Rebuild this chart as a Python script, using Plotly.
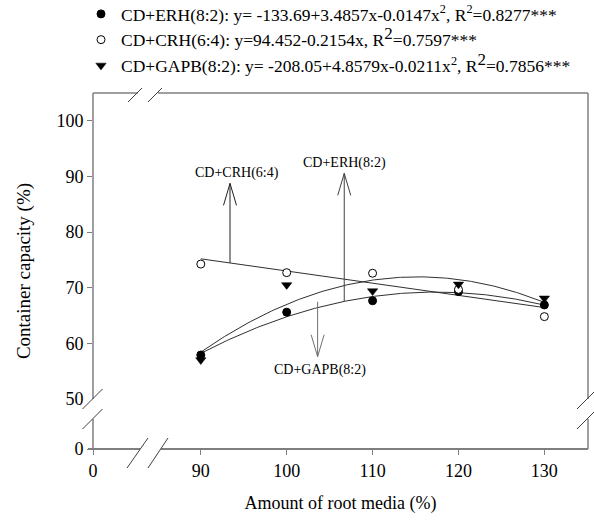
import numpy as np
import plotly.graph_objects as go

# ---------------- data ----------------
root_media = [90, 100, 110, 120, 130]
erh = [57.9, 65.6, 67.65, 69.3, 66.9]      # CD+ERH(8:2)
crh = [74.25, 72.7, 72.6, 69.7, 64.8]      # CD+CRH(6:4)
gapb = [57.0, 70.5, 69.4, 70.6, 68.1]      # CD+GAPB(8:2)

x_tickvals = [77.45, 90, 100, 110, 120, 130]
x_ticktext = ["0", "90", "100", "110", "120", "130"]
y_tickvals = [41, 50, 60, 70, 80, 90, 100]
y_ticktext = ["0", "50", "60", "70", "80", "90", "100"]

leg_erh = "CD+ERH(8:2): y= -133.69+3.4857x-0.0147x<sup>2</sup>, R<sup>2</sup>=0.8277***"
leg_crh = ("CD+CRH(6:4): y=94.452-0.2154x, R<sup><span style='font-size:17px'>2</span></sup>=0.7597***")
leg_gapb = ("CD+GAPB(8:2): y= -208.05+4.8579x-0.0211x<sup>2</sup>, "
            "R<sup><span style='font-size:17px'>2</span></sup>=0.7856***")

# ---------------- layout geometry ----------------
W, H = 594, 520
ML, MR, MT, MB = 93, 6, 93, 71
X0, X1 = 77.45, 135.08
Y0, Y1 = 41.0, 105.0
PW, PH = W - ML - MR, H - MT - MB
PX_X = PW / (X1 - X0)   # px per x unit
PX_Y = PH / (Y1 - Y0)   # px per y unit


def px(xp):
    return (xp - ML) / PW


def py(yp):
    return (H - MB - yp) / PH


FONT = "Liberation Serif"
xs = np.linspace(90, 130, 161)
fit_erh = np.poly1d(np.polyfit(root_media, erh, 2))
fit_crh = np.poly1d(np.polyfit(root_media, crh, 1))
fit_gapb = np.poly1d(np.polyfit(root_media, gapb, 2))

fig = go.Figure()
line_col = "#303030"
for f in (fit_erh, fit_crh, fit_gapb):
    fig.add_trace(go.Scatter(x=xs, y=f(xs), mode="lines", showlegend=False,
                             line=dict(color=line_col, width=1), hoverinfo="skip"))

fig.add_trace(go.Scatter(x=root_media, y=erh, mode="markers", name=leg_erh,
                         marker=dict(symbol="circle", size=8, color="black",
                                     line=dict(color="black", width=1))))
fig.add_trace(go.Scatter(x=root_media, y=crh, mode="markers", name=leg_crh,
                         marker=dict(symbol="circle", size=8, color="white",
                                     line=dict(color="black", width=1))))
fig.add_trace(go.Scatter(x=root_media, y=gapb, mode="markers", name=leg_gapb,
                         marker=dict(symbol="triangle-down", size=9, color="black",
                                     line=dict(color="black", width=0.5))))

shapes = []
fc = "#7f7f7f"


def seg(x0, y0, x1, y1, color=fc, width=1.5):
    shapes.append(dict(type="line", xref="paper", yref="paper",
                       x0=px(x0), y0=py(y0), x1=px(x1), y1=py(y1),
                       line=dict(color=color, width=width), layer="above"))


L, R, T, B = ML, W - MR, MT, H - MB
# frame with breaks
seg(L, T, L, 399)
seg(L, 419, L, B)
seg(L - 5, B, 140, B, width=2)
seg(161, B, R, B, width=2)
seg(L, T, 138, T)
seg(158, T, R, T)
seg(R, T, R, 399)
seg(R, 419, R, B)
# cover tick at 50
shapes.append(dict(type="rect", xref="paper", yref="paper", x0=px(84), x1=px(92),
                   y0=py(401), y1=py(397), fillcolor="white", line=dict(width=0),
                   layer="above"))
sc = "#404040"
# break slashes
seg(82.5, 409, 102.5, 389, sc, 1)
seg(82.5, 429, 102.5, 409, sc, 1)
seg(127, 468, 148, 438, sc, 1)
seg(148, 468, 168, 438, sc, 1)
seg(128, 102, 142, 88, sc, 1)
seg(148, 102, 162, 88, sc, 1)
seg(577, 409, 594, 392, sc, 1)
seg(577, 429, 594, 412, sc, 1)


def arrow(xv, ybase, ytip, color):
    dx = 6.5 / PX_X
    dy = 22 / PX_Y
    sgn = 1 if ytip > ybase else -1
    shapes.append(dict(type="line", xref="x", yref="y", x0=xv, y0=ybase, x1=xv, y1=ytip,
                       line=dict(color=color, width=1)))
    shapes.append(dict(type="path", xref="x", yref="y",
                       path=f"M {xv-dx},{ytip - sgn*dy} L {xv},{ytip} L {xv+dx},{ytip - sgn*dy}",
                       line=dict(color=color, width=1)))


arrow(93.4, float(fit_crh(93.4)), 88.75, "#202020")
arrow(106.7, float(fit_erh(106.7)), 90.55, "#404040")
arrow(103.6, float(fit_gapb(103.6)) - 1.6, 57.6, "#707070")

annots = [
    dict(x=94.18, y=90.55, text="CD+CRH(6:4)"),
    dict(x=106.71, y=92.35, text="CD+ERH(8:2)"),
    dict(x=103.88, y=55.2, text="CD+GAPB(8:2)"),
]
annotations = [dict(xref="x", yref="y", x=a["x"], y=a["y"], text=a["text"], showarrow=False,
                    font=dict(family=FONT, size=14, color="black")) for a in annots]

fig.update_layout(
    width=W, height=H,
    margin=dict(l=ML, r=MR, t=MT, b=MB, autoexpand=False),
    paper_bgcolor="white", plot_bgcolor="white",
    font=dict(family=FONT, color="black"),
    shapes=shapes, annotations=annotations,
    showlegend=True,
    legend=dict(x=px(81), xanchor="left", y=py(-4), yanchor="top",
                font=dict(family=FONT, size=17.5, color="black"),
                bgcolor="rgba(0,0,0,0)", tracegroupgap=0),
    xaxis=dict(range=[X0, X1], tickmode="array", tickvals=x_tickvals, ticktext=x_ticktext,
               showgrid=False, zeroline=False, showline=False, ticks="outside", ticklen=5,
               tickcolor=fc, tickwidth=1, tickfont=dict(family=FONT, size=18),
               automargin=False,
               title=dict(text="Amount of root media (%)", font=dict(family=FONT, size=18),
                          standoff=16)),
    yaxis=dict(range=[Y0, Y1], tickmode="array", tickvals=y_tickvals, ticktext=y_ticktext,
               showgrid=False, zeroline=False, showline=False, ticks="outside", ticklen=5,
               tickcolor=fc, tickwidth=1, tickfont=dict(family=FONT, size=18),
               automargin=False,
               title=dict(text="Container capacity (%)", font=dict(family=FONT, size=19),
                          standoff=20)),
)

fig.write_html("out.html")
